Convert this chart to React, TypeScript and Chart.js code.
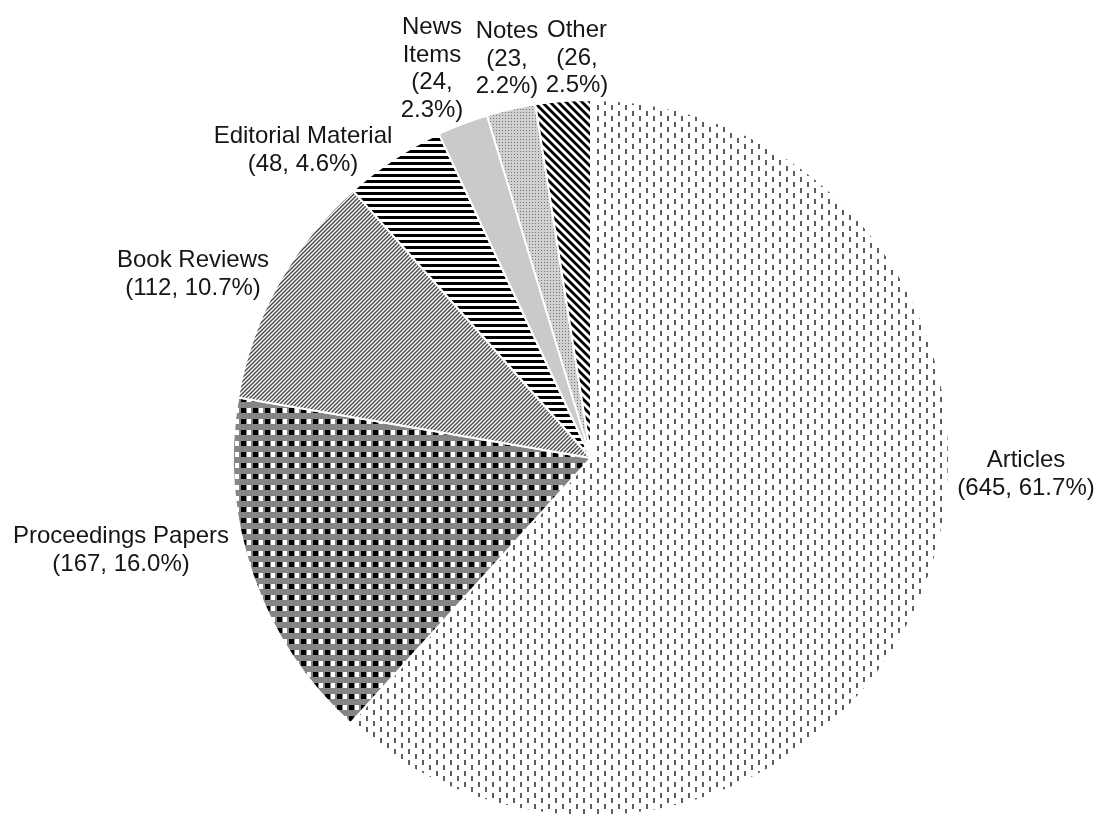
import React, { useEffect, useRef } from "react";
import { Chart, registerables } from "chart.js";

Chart.register(...registerables);

// ---- data ----
const categories = [
  "Articles",
  "Proceedings Papers",
  "Book Reviews",
  "Editorial Material",
  "News Items",
  "Notes",
  "Other",
];
const counts = [645, 167, 112, 48, 24, 23, 26];
const percents = ["61.7%", "16.0%", "10.7%", "4.6%", "2.3%", "2.2%", "2.5%"];
// "two": name on one line, "(n, p%)" below; "stack": every word on its own line
const labelStyles = ["two", "two", "two", "two", "stack", "stack", "stack"];

// label anchors: offset of the first baseline (centre of text) from the pie centre
const labelOffsets: [number, number][] = [
  [435, 9],
  [-470, 85],
  [-398, -191],
  [-288, -315],
  [-159, -424],
  [-84, -420],
  [-14, -421],
];

function buildLines(i: number): string[] {
  if (labelStyles[i] === "two") {
    return [categories[i], `(${counts[i]}, ${percents[i]})`];
  }
  return [...categories[i].split(" "), `(${counts[i]},`, `${percents[i]})`];
}

function tile(w: number, h: number, draw: (g: CanvasRenderingContext2D) => void) {
  const c = document.createElement("canvas");
  c.width = w;
  c.height = h;
  const g = c.getContext("2d")!;
  draw(g);
  return c;
}

function diag(g: CanvasRenderingContext2D, s: number, dir: "/" | "\\", color: string, lw: number) {
  g.strokeStyle = color;
  g.lineWidth = lw;
  for (let k = -2; k <= 3; k++) {
    g.beginPath();
    if (dir === "/") {
      g.moveTo(k * s + s, -s);
      g.lineTo(k * s - 2 * s, 2 * s);
    } else {
      g.moveTo(k * s - s, -s);
      g.lineTo(k * s + 2 * s, 2 * s);
    }
    g.stroke();
  }
}

function makePatterns(ctx: CanvasRenderingContext2D) {
  const articles = tile(14, 11, (g) => {
    g.fillStyle = "#ffffff";
    g.fillRect(0, 0, 14, 11);
    g.fillStyle = "#5e5e5e";
    g.fillRect(2, 1, 2, 5);
    g.fillRect(9, 6, 2, 5);
  });
  const proc = tile(12, 11, (g) => {
    g.fillStyle = "#858585";
    g.fillRect(0, 0, 12, 11);
    g.fillStyle = "#000000";
    g.fillRect(1, 1, 5, 5);
    g.fillStyle = "#ffffff";
    g.fillRect(7, 1, 4, 5);
  });
  const book = tile(4, 4, (g) => {
    g.fillStyle = "#ffffff";
    g.fillRect(0, 0, 4, 4);
    diag(g, 4, "/", "#4a4a4a", 1.5);
  });
  const editorial = tile(6, 6, (g) => {
    g.fillStyle = "#ffffff";
    g.fillRect(0, 0, 6, 6);
    g.fillStyle = "#000000";
    g.fillRect(0, 0, 6, 3);
  });
  const notes = tile(3, 3, (g) => {
    g.fillStyle = "#d0d0d0";
    g.fillRect(0, 0, 3, 3);
    g.fillStyle = "#737373";
    g.fillRect(1, 1, 1, 1);
  });
  const other = tile(8, 8, (g) => {
    g.fillStyle = "#ffffff";
    g.fillRect(0, 0, 8, 8);
    diag(g, 8, "\\", "#000000", 2.8);
  });
  return [
    ctx.createPattern(articles, "repeat"),
    ctx.createPattern(proc, "repeat"),
    ctx.createPattern(book, "repeat"),
    ctx.createPattern(editorial, "repeat"),
    "#cacaca",
    ctx.createPattern(notes, "repeat"),
    ctx.createPattern(other, "repeat"),
  ];
}

const labelPlugin = {
  id: "sliceLabels",
  afterDraw(chart: any) {
    const meta = chart.getDatasetMeta(0);
    const arc = meta.data[0];
    if (!arc) return;
    const cx = arc.x;
    const cy = arc.y;
    const ctx = chart.ctx as CanvasRenderingContext2D;
    ctx.save();
    ctx.font = '24px "Liberation Sans", Arial, sans-serif';
    ctx.fillStyle = "#161616";
    ctx.textAlign = "center";
    ctx.textBaseline = "alphabetic";
    const lh = 27.5;
    categories.forEach((_, i) => {
      const lines = buildLines(i);
      const [dx, dy] = labelOffsets[i];
      lines.forEach((t, j) => {
        ctx.fillText(t, cx + dx, cy + dy + j * lh);
      });
    });
    ctx.restore();
  },
};

export default function App() {
  const ref = useRef<HTMLCanvasElement | null>(null);
  useEffect(() => {
    const canvas = ref.current!;
    const ctx = canvas.getContext("2d")!;
    const patterns = makePatterns(ctx);
    const chart = new Chart(canvas, {
      type: "pie",
      data: {
        labels: categories,
        datasets: [
          {
            data: counts,
            backgroundColor: patterns as any,
            borderColor: "#ffffff",
            borderWidth: 2,
          },
        ],
      },
      options: {
        responsive: false,
        animation: false,
        layout: { padding: { left: 232, right: 147, top: 99, bottom: 2 } },
        plugins: {
          legend: { display: false },
          tooltip: { enabled: false },
        },
      },
      plugins: [labelPlugin],
    });
    return () => chart.destroy();
  }, []);
  return (
    <div style={{ position: "absolute", left: 0, top: 0, width: 1097, height: 819, background: "#fff" }}>
      <canvas ref={ref} width={1097} height={819} style={{ display: "block" }} />
    </div>
  );
}
